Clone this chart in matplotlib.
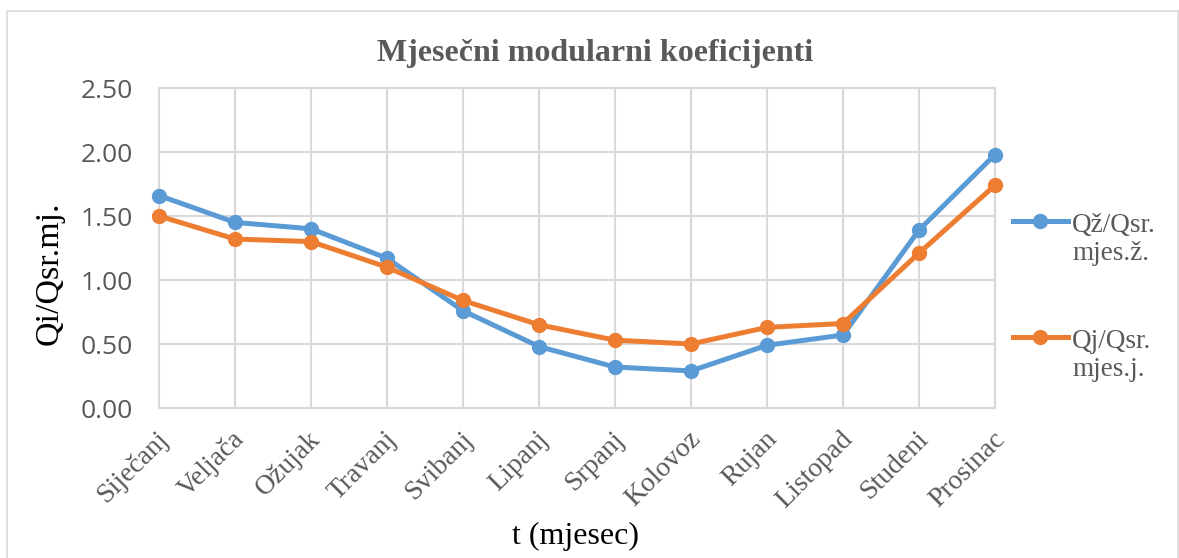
import matplotlib.pyplot as plt
from matplotlib.patches import Rectangle
from matplotlib.lines import Line2D
from matplotlib.transforms import ScaledTranslation

# mjesečni modularni koeficijenti
mjeseci = ['Siječanj', 'Veljača', 'Ožujak', 'Travanj', 'Svibanj', 'Lipanj',
           'Srpanj', 'Kolovoz', 'Rujan', 'Listopad', 'Studeni', 'Prosinac']
qz = [1.66, 1.45, 1.40, 1.17, 0.76, 0.48, 0.32, 0.29, 0.49, 0.57, 1.39, 1.98]
qj = [1.50, 1.32, 1.30, 1.10, 0.84, 0.65, 0.53, 0.50, 0.63, 0.66, 1.21, 1.74]
y_ticks = [0.0, 0.5, 1.0, 1.5, 2.0, 2.5]
serije = [(qz, '#5B9BD5', ['Qž/Qsr.', 'mjes.ž.']),
          (qj, '#ED7D31', ['Qj/Qsr.', 'mjes.j.'])]

siva = '#595959'
mreza = '#D9D9D9'
serif = ['Liberation Serif', 'DejaVu Serif']

W, H = 1179, 558
fig = plt.figure(figsize=(W / 100, H / 100), dpi=100)

# okvir grafikona
fig.patches.append(Rectangle((7 / W, -0.01), (1178 - 7) / W, 1 - 11 / H + 0.01,
                             transform=fig.transFigure, fill=False,
                             edgecolor=mreza, linewidth=1.2))

ax = fig.add_axes([159 / W, 1 - 408 / H, (995 - 159) / W, (408 - 88) / H])
x = list(range(len(mjeseci)))

for vrijednosti, boja, _ in serije:
    ax.plot(x, vrijednosti, color=boja, lw=3.6, marker='o', ms=10,
            clip_on=False, zorder=3)

ax.set_xlim(0, 11)
ax.set_ylim(0, 2.5)
ax.set_xticks(x)
ax.set_yticks(y_ticks)
ax.set_yticklabels(['%.2f' % v for v in y_ticks], fontfamily='Open Sans',
                   fontsize=19, color=siva)
ax.set_xticklabels(mjeseci, rotation=45, ha='right', va='center',
                   rotation_mode='anchor', fontfamily=serif, fontsize=20, color=siva)
ax.tick_params(axis='y', length=0, pad=19)
ax.tick_params(axis='x', length=0, pad=22)
pomak = ScaledTranslation(6 / 100, 3 / 100, fig.dpi_scale_trans)
for lbl in ax.get_xticklabels():
    lbl.set_transform(lbl.get_transform() + pomak)

ax.grid(True, color=mreza, lw=1.5)
ax.set_axisbelow(True)
for s in ax.spines.values():
    s.set_color(mreza)
    s.set_linewidth(1.5)

fig.text(595 / W, 1 - 61 / H, 'Mjesečni modularni koeficijenti', ha='center',
         va='baseline', fontfamily=serif, fontsize=23, fontweight='bold', color=siva)
fig.text(49 / W, 1 - 273 / H, 'Qi/Qsr.mj.', rotation=90, ha='center', va='center',
         fontfamily=serif, fontsize=24.5, color='black')
fig.text(575 / W, 1 - 536 / H, 't (mjesec)', ha='center', va='center',
         fontfamily=serif, fontsize=23, color='black')

# legenda: oznaka uz prvi redak opisa
for i, (_, boja, redovi) in enumerate(serije):
    yl = 221 + i * 116
    fig.add_artist(Line2D([1013 / W, 1068 / W], [1 - yl / H, 1 - yl / H],
                          transform=fig.transFigure, color=boja, lw=3.6))
    fig.add_artist(Line2D([1040 / W], [1 - yl / H], transform=fig.transFigure,
                          color=boja, marker='o', ms=10))
    for j, red in enumerate(redovi):
        fig.text(1072 / W, 1 - (yl + 11 + j * 28) / H, red, ha='left', va='baseline',
                 fontfamily=serif, fontsize=19.5, color=siva)

fig.savefig('out.png', dpi=100)
